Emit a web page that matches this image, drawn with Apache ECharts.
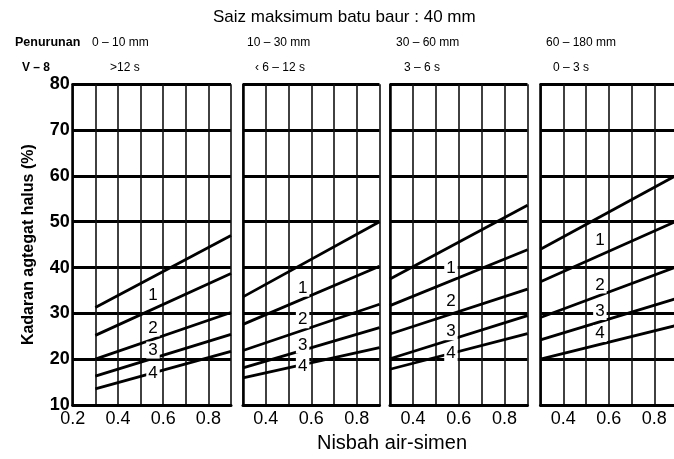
<!DOCTYPE html>
<html>
<head>
<meta charset="utf-8">
<script src="https://cdn.jsdelivr.net/npm/echarts@6/dist/echarts.min.js"></script>
<style>html,body{margin:0;padding:0;background:#fff}#c{width:674px;height:459px}</style>
</head>
<body>
<div id="c"></div>
<script>
// ---- data ----
const titleText = 'Saiz maksimum batu baur : 40 mm';
const slumpRow = ['0 – 10 mm', '10 – 30 mm', '30 – 60 mm', '60 – 180 mm'];
const vebeRow = ['>12 s', '‹ 6 – 12 s', '3 – 6 s', '0 – 3 s'];
const xMins = [0.2, 0.3, 0.3, 0.3];
const xMax = 0.9;
const yTicks = [10, 20, 30, 40, 50, 60, 70, 80];
const lineX = [0.3, 0.9];
// boundary lines per panel: [value at 0.3, value at 0.9]
const panel1 = [[31.3, 47.0], [25.2, 38.7], [20.0, 30.2], [16.3, 25.4], [13.5, 21.7]];
const panel2 = [[33.6, 50.0], [27.6, 40.3], [21.9, 32.0], [18.1, 26.9], [15.9, 22.5]];
const panel3 = [[37.5, 53.6], [31.7, 43.9], [25.5, 35.3], [20.1, 29.5], [17.8, 25.6]];
const panel4 = [[44.0, 60.2], [36.9, 50.2], [29.1, 40.2], [24.2, 33.3], [20.0, 27.4]];
const zoneNames = ['1', '2', '3', '4'];
// zone label positions (x, y) per panel
const zoneX = [0.555, 0.562, 0.566, 0.561];
const zoneY1 = [34.0, 26.8, 22.0, 17.0];
const zoneY2 = [35.5, 28.6, 23.1, 18.4];
const zoneY3 = [39.8, 32.6, 26.0, 21.3];
const zoneY4 = [46.0, 36.2, 30.4, 25.6];

const panels = [panel1, panel2, panel3, panel4];
const zoneYs = [zoneY1, zoneY2, zoneY3, zoneY4];

// ---- layout ----
const gridBoxes = [
  {left: 72.7, width: 158.3},
  {left: 243, width: 136.5},
  {left: 390, width: 137.5},
  {left: 540.5, width: 136.5}
];
const gridTop = 84.3, gridHeight = 320.7;
const FONT = '"Liberation Sans", Arial, sans-serif';

const grid = gridBoxes.map(g => ({
  left: g.left, width: g.width, top: gridTop, height: gridHeight,
  containLabel: false, outerBoundsMode: 'none'
}));

const xAxis = xMins.map((mn, i) => ({
  type: 'value', gridIndex: i, min: mn, max: xMax, interval: 0.1,
  axisLine: {show: true, lineStyle: {color: '#000', width: 3}},
  axisTick: {show: false},
  axisLabel: {
    margin: 5, fontSize: 18, color: '#000', fontFamily: FONT,
    formatter: v => { const k = Math.round(v * 10); return (k % 2 === 0 && k < 9) ? (k / 10).toFixed(1) : ''; }
  },
  splitLine: {show: true, lineStyle: {color: '#111', width: 1.6}}
}));

const yAxis = xMins.map((mn, i) => ({
  type: 'value', gridIndex: i, min: 10, max: 80, interval: 10,
  axisLine: {show: true, lineStyle: {color: '#000', width: 2.5}},
  axisTick: {show: false},
  axisLabel: {show: i === 0, margin: 3, fontSize: 18, fontWeight: 'bold', color: '#000', fontFamily: FONT},
  splitLine: {show: true, lineStyle: {color: '#000', width: 3}},
  name: i === 0 ? 'Kadaran agtegat halus (%)' : '',
  nameLocation: 'middle', nameGap: 36,
  nameTextStyle: {fontSize: 16, fontWeight: 'bold', color: '#000', fontFamily: FONT}
}));

const series = [];
panels.forEach((pl, p) => {
  pl.forEach(vals => {
    series.push({
      type: 'line', xAxisIndex: p, yAxisIndex: p, symbol: 'none', silent: true,
      lineStyle: {color: '#000', width: 2.8}, z: 3,
      data: lineX.map((x, j) => [x, vals[j]])
    });
  });
  series.push({
    type: 'scatter', xAxisIndex: p, yAxisIndex: p, symbolSize: 0, z: 10, silent: true,
    itemStyle: {opacity: 1},
    data: zoneNames.map((n, j) => [zoneX[p], zoneYs[p][j], n]),
    label: {
      show: true, position: 'inside', formatter: d => d.value[2],
      fontSize: 17, color: '#000', opacity: 1, fontFamily: FONT,
      backgroundColor: '#fff', padding: [0, 2, 0, 2]
    }
  });
});

const graphic = [
  {type: 'text', x: 213, y: 17, style: {text: titleText, font: '17px ' + FONT, fill: '#000', textVerticalAlign: 'middle'}},
  {type: 'text', x: 15, y: 43, style: {text: 'Penurunan', font: 'bold 12.5px ' + FONT, fill: '#000', textVerticalAlign: 'middle'}},
  {type: 'text', x: 22, y: 68, style: {text: 'V – 8', font: 'bold 12px ' + FONT, fill: '#000', textVerticalAlign: 'middle'}},
  {type: 'text', x: 392, y: 443, style: {text: 'Nisbah air-simen', font: '20px ' + FONT, fill: '#000', textAlign: 'center', textVerticalAlign: 'middle'}}
];
const slumpX = [92, 247, 396, 546];
const vebeX = [110, 255, 404, 553];
slumpRow.forEach((t, i) => graphic.push({type: 'text', x: slumpX[i], y: 43, style: {text: t, font: '12px ' + FONT, fill: '#000', textVerticalAlign: 'middle'}}));
vebeRow.forEach((t, i) => graphic.push({type: 'text', x: vebeX[i], y: 68, style: {text: t, font: '12px ' + FONT, fill: '#000', textVerticalAlign: 'middle'}}));

const chart = echarts.init(document.getElementById('c'), null, {renderer: 'canvas'});
chart.setOption({
  animation: false,
  backgroundColor: '#fff',
  grid, xAxis, yAxis, series, graphic
});
</script>
</body>
</html>
